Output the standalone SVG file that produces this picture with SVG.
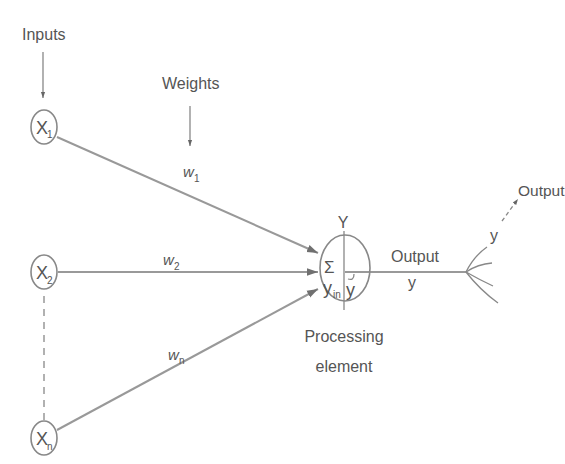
<svg xmlns="http://www.w3.org/2000/svg" width="565" height="464" viewBox="0 0 565 464">
<defs>
<marker id="ahs" viewBox="0 0 10 10" refX="10" refY="5" markerWidth="6" markerHeight="8" orient="auto" markerUnits="userSpaceOnUse">
<path d="M0,1.5 L10,5 L0,8.5 Z" fill="#666"/>
</marker>
<marker id="ahb" viewBox="0 0 10 10" refX="10" refY="5" markerWidth="11" markerHeight="11" orient="auto" markerUnits="userSpaceOnUse">
<path d="M0,1.5 L10,5 L0,8.5 Z" fill="#707070"/>
</marker>
</defs>
<style>
text{font-family:"Liberation Sans",Arial,sans-serif;fill:#555;font-size:16px}
.lbl{text-anchor:middle}
.node{fill:none;stroke:#888;stroke-width:1.6}
.ln{stroke:#999;stroke-width:2;fill:none}
.thin{stroke:#888;stroke-width:1.3;fill:none}
.it{font-style:italic;font-size:15px}
.sub{font-size:10px}
.big{font-size:18px}
</style>
<rect width="565" height="464" fill="#fff"/>

<g id="connectors">
<line class="thin" x1="43" y1="52" x2="43" y2="98" marker-end="url(#ahs)"/>
<line class="thin" x1="190" y1="106" x2="190" y2="146" marker-end="url(#ahs)"/>
<line class="ln" x1="57" y1="137" x2="318" y2="253" marker-end="url(#ahb)"/>
<line class="ln" x1="58" y1="272" x2="318" y2="272" marker-end="url(#ahb)"/>
<line class="ln" x1="57" y1="430" x2="318" y2="289" marker-end="url(#ahb)"/>
<line class="thin" x1="44" y1="296" x2="44" y2="420" stroke-dasharray="7,6"/>
<line class="ln" x1="345" y1="272" x2="466" y2="272"/>
<path class="thin" d="M466,272 Q474,256 487,247"/>
<path class="thin" d="M466,272 Q478,264 492,263"/>
<path class="thin" d="M466,272 Q480,280 493,286"/>
<path class="thin" d="M466,272 Q480,290 498,303"/>
<path class="thin" d="M502,221 L518,199" stroke-dasharray="4,3" marker-end="url(#ahs)"/>
</g>

<g id="x1">
<ellipse class="node" cx="44" cy="127" rx="13" ry="17"/>
<text class="big" x="36" y="134">X</text><text class="sub" x="47" y="138">1</text>
</g>
<g id="x2">
<ellipse class="node" cx="44" cy="272" rx="13" ry="17"/>
<text class="big" x="36" y="279">X</text><text class="sub" x="47" y="284">2</text>
</g>
<g id="xn">
<ellipse class="node" cx="44" cy="438" rx="13" ry="17"/>
<text class="big" x="36" y="445">X</text><text class="sub" x="47" y="450">n</text>
</g>

<g id="pe">
<ellipse class="node" cx="345" cy="268" rx="25" ry="33"/>
<line class="thin" x1="344" y1="231" x2="344" y2="310"/>
<text x="324" y="273" style="font-size:17px">Σ</text>
<text class="big" x="323" y="294">y</text><text class="sub" x="333" y="298">in</text>
<text class="big" x="346" y="296">y</text>
<path class="thin" d="M348,279 Q354,281 354,274" stroke-width="1"/>
<text class="lbl" x="343" y="228">Y</text>
<text class="lbl" x="344" y="342">Processing</text>
<text class="lbl" x="344" y="372">element</text>
</g>

<g id="labels">
<text x="22" y="40">Inputs</text>
<text x="162" y="89">Weights</text>
<text class="it" x="183" y="177">w</text><text class="sub" x="194" y="182">1</text>
<text class="it" x="163" y="265">w</text><text class="sub" x="174" y="270">2</text>
<text class="it" x="168" y="360">w</text><text class="sub" x="179" y="364">n</text>
<text x="391" y="262">Output</text>
<text class="lbl" x="412" y="288">y</text>
<text x="490" y="241">y</text>
<text x="518" y="196" style="font-size:15.5px">Output</text>
</g>
</svg>
